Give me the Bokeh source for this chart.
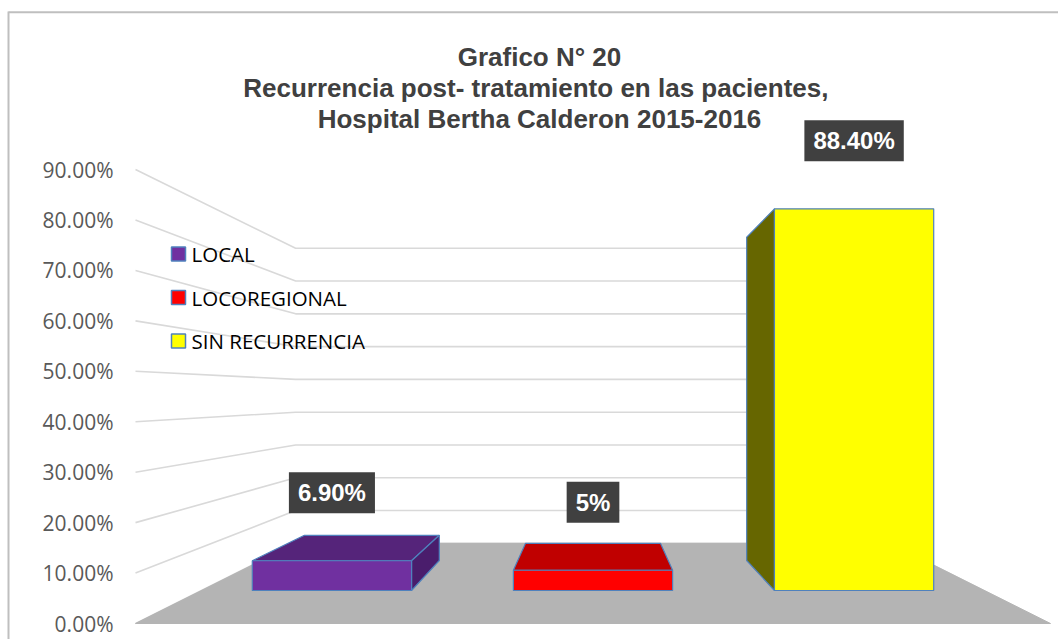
from bokeh.plotting import figure
from bokeh.models import Range1d, ColumnDataSource
from bokeh.core.properties import value
from bokeh.embed import file_html
from bokeh.resources import INLINE

# ---------------- data ----------------
title_lines = ["Grafico N° 20",
               "Recurrencia  post- tratamiento en las pacientes,",
               "Hospital Bertha Calderon 2015-2016"]
categories = ["LOCAL", "LOCOREGIONAL", "SIN RECURRENCIA"]
values = [6.9, 4.7, 88.4]
value_labels = ["6.90%", "5%", "88.40%"]
y_ticks = [0, 10, 20, 30, 40, 50, 60, 70, 80, 90]
tick_labels = ["0.00%", "10.00%", "20.00%", "30.00%", "40.00%",
               "50.00%", "60.00%", "70.00%", "80.00%", "90.00%"]
front_colors = ["#7030A0", "#FF0000", "#FFFF00"]
top_colors = ["#55247A", "#C00000", "#BFBF00"]
side_colors = ["#4A1D6C", "#A00000", "#666600"]

# ---------------- layout / style ----------------
W, H = 1058, 639           # canvas (page pixels)
PAGE0 = 0                  # page offset of the canvas
ORIGIN_PX = 135.0          # page x of the front-left floor corner
PX_PER_CAT = 305.0
BASE_PY = 623.0            # page y of 0% on the front plane
PX_PER_PCT = 5.044


def px_x(page_x):
    return (page_x - ORIGIN_PX) / PX_PER_CAT - 0.5


def py_y(page_y):
    return (BASE_PY - page_y) / PX_PER_PCT


XC, YV = 1.0, 45.4          # vanishing point in front-plane data units
S_WALL, S_FRONT, S_BACK = 0.65, 0.856, 0.725
BAR_W = 0.61
X_LO, X_HI = -0.5, len(categories) - 0.5
EDGE = "#4F81BD"


def proj(x, y, s):
    return XC + s * (x - XC), YV + s * (y - YV)


p = figure(width=W, height=H, x_range=Range1d(px_x(PAGE0), px_x(PAGE0 + W)),
           y_range=Range1d(py_y(PAGE0 + H), py_y(PAGE0)),
           output_backend="svg", toolbar_location=None, min_border=0,
           x_axis_location=None, y_axis_location=None,
           outline_line_color=None, background_fill_color="white",
           border_fill_color="white")
p.grid.visible = False

# chart border
p.line([px_x(8), px_x(1060)], [py_y(11.8), py_y(11.8)], line_color="#BFBFBF", line_width=2)
p.line([px_x(8), px_x(8)], [py_y(11), py_y(645)], line_color="#BFBFBF", line_width=2)

# gridlines (side wall + back wall)
gx, gy = [], []
for t in y_ticks:
    bx0, by = proj(X_LO, t, S_WALL)
    bx1, _ = proj(X_HI, t, S_WALL)
    gx.append([X_LO, bx0, bx1])
    gy.append([t, by, by])
p.multi_line(gx, gy, line_color="#D9D9D9", line_width=1.6)

# floor
fl = [proj(X_LO, 0, 1), proj(X_HI, 0, 1), proj(X_HI, 0, S_WALL), proj(X_LO, 0, S_WALL)]
p.patch([q[0] for q in fl], [q[1] for q in fl], fill_color="#B4B4B4", line_color="#B4B4B4",
        line_width=1)

# bars
sx, sy, sc = [], [], []
fx, fy = [], []
for i, v in enumerate(values):
    x0, x1 = i - BAR_W / 2, i + BAR_W / 2
    faces = []
    if v < YV:
        faces.append(([proj(x0, v, S_FRONT), proj(x1, v, S_FRONT),
                       proj(x1, v, S_BACK), proj(x0, v, S_BACK)], top_colors[i]))
    if x1 < XC:
        faces.append(([proj(x1, 0, S_FRONT), proj(x1, v, S_FRONT),
                       proj(x1, v, S_BACK), proj(x1, 0, S_BACK)], side_colors[i]))
    if x0 > XC:
        faces.append(([proj(x0, 0, S_FRONT), proj(x0, v, S_FRONT),
                       proj(x0, v, S_BACK), proj(x0, 0, S_BACK)], side_colors[i]))
    for pts, c in faces:
        sx.append([q[0] for q in pts])
        sy.append([q[1] for q in pts])
        sc.append(c)
    fr = [proj(x0, 0, S_FRONT), proj(x1, 0, S_FRONT), proj(x1, v, S_FRONT), proj(x0, v, S_FRONT)]
    fx.append([q[0] for q in fr])
    fy.append([q[1] for q in fr])

p.patches("xs", "ys", source=ColumnDataSource(dict(xs=sx, ys=sy, c=sc)),
          fill_color="c", line_color=EDGE, line_width=1.2)
p.patches("xs", "ys", source=ColumnDataSource(dict(xs=fx, ys=fy, c=front_colors)),
          fill_color="c", line_color=EDGE, line_width=1.2)

# data labels
lx = [proj(i, v, S_FRONT)[0] for i, v in enumerate(values)]
ly = [proj(i, v, S_FRONT)[1] for i, v in enumerate(values)]
p.text(lx, ly, text=value_labels, y_offset=-68, text_align="center", text_baseline="middle",
       text_font=value("Liberation Sans"), text_font_style="bold", text_font_size="24px",
       text_color="white", background_fill_color="#404040", padding=(9, 7))

# y tick labels (front plane)
p.text([px_x(113)] * len(y_ticks), y_ticks, text=tick_labels, text_align="right",
       text_baseline="middle", text_font=value("Open Sans"), text_font_size="21px",
       text_color="#595959")

# legend
leg_y = [py_y(253.5 + 43.5 * k) for k in range(len(categories))]
p.scatter([px_x(178)] * len(categories), leg_y, marker="square", size=14,
          fill_color=front_colors, line_color=EDGE, line_width=1.5)
p.text([px_x(191)] * len(categories), leg_y, text=categories, text_align="left",
       text_baseline="middle", text_font=value("Open Sans"), text_font_size="20.5px",
       text_color="#000000")

# title
p.text([px_x(539)] * 3, [py_y(56.7), py_y(87.7), py_y(118.5)], text=title_lines,
       text_align="center", text_baseline="alphabetic", text_font=value("Liberation Sans"),
       text_font_style="bold", text_font_size="26px", text_color="#404040")

open("out.html", "w").write(file_html(p, INLINE))
